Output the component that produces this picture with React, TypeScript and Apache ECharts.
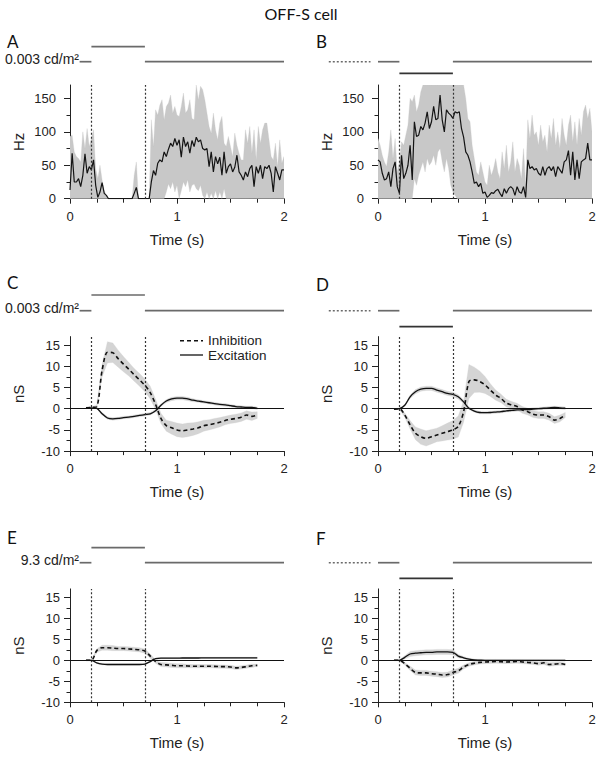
import React, { useEffect, useRef } from "react";
import * as echarts from "echarts";

// ---------------- data ----------------
// Firing rate (Hz), 20 ms bins from 0 to 2 s
const RATE_BIN_S = 0.02;
const RATE_A = [
  13, 68, 25, 25, 30, 18, 35, 67, 38, 48,
  43, 58, 20, 2, 10, 24, 8, 5, 0, 0,
  0, 0, 0, 0, 0, 0, 0, 0, 0, 0,
  8, 17, 0, 0, 0, 0, 0, 0, 25, 42,
  35, 53, 58, 55, 70, 63, 74, 83, 78, 90,
  80, 88, 62, 92, 78, 85, 68, 87, 78, 92,
  85, 88, 75, 73, 75, 48, 70, 40, 63, 52,
  62, 35, 70, 38, 48, 52, 40, 47, 65, 40,
  35, 28, 40, 33, 45, 50, 18, 48, 38, 50,
  30, 48, 45, 50, 38, 10, 48, 38, 28, 43,
  43,
];
const RATE_A_UPPER = [
  93, 95, 70, 63, 60, 55, 100, 75, 105, 78,
  90, 103, 45, 30, 50, 28, 12, 5, 0, 0,
  0, 0, 0, 0, 0, 0, 0, 0, 0, 0,
  35, 55, 0, 0, 0, 0, 0, 0, 118, 78,
  133, 125, 140, 148, 118, 138, 143, 155, 128, 138,
  125, 123, 138, 158, 128, 133, 148, 120, 118, 170,
  148, 168, 163, 148, 128, 108, 98, 128, 103, 88,
  113, 123, 83, 78, 93, 78, 63, 98, 80, 68,
  58, 58, 103, 83, 108, 68, 103, 58, 108, 83,
  103, 113, 113, 88, 63, 58, 83, 48, 88, 53,
  63,
];
const RATE_A_LOWER = [
  0, 0, 0, 0, 0, 0, 0, 0, 0, 0,
  0, 0, 0, 0, 0, 0, 0, 0, 0, 0,
  0, 0, 0, 0, 0, 0, 0, 0, 0, 0,
  0, 0, 0, 0, 0, 0, 0, 0, 0, 0,
  0, 0, 0, 0, 0, 10, 22, 15, 25, 10,
  20, 0, 12, 25, 18, 28, 10, 20, 22, 15,
  12, 20, 5, 0, 10, 0, 8, 0, 12, 0,
  10, 0, 15, 0, 0, 0, 0, 0, 0, 0,
  0, 0, 0, 0, 0, 0, 0, 0, 0, 0,
  0, 0, 0, 0, 0, 0, 0, 0, 0, 0,
  0,
];
const RATE_B = [
  58, 55, 38, 28, 30, 40, 18, 45, 55, 18,
  8, 65, 30, 38, 50, 80, 28, 115, 93, 95,
  108, 103, 113, 130, 105, 115, 138, 118, 120, 155,
  118, 100, 133, 128, 125, 120, 130, 128, 130, 105,
  92, 70, 65, 55, 40, 23, 25, 18, 23, 8,
  10, 2, 5, 9, 8, 12, 14, 8, 3, 15,
  8, 15, 18, 15, 5, 18, 10, 8, 18, 2,
  58, 45, 48, 43, 45, 38, 35, 48, 35, 45,
  48, 42, 48, 33, 48, 43, 38, 55, 58, 72,
  35, 70, 28, 58, 30, 55, 58, 60, 83, 58,
  58,
];
const RATE_B_UPPER = [
  90, 80, 65, 55, 48, 70, 103, 60, 90, 40,
  55, 85, 80, 95, 110, 150, 145, 155, 130, 140,
  160, 170, 170, 170, 170, 170, 170, 170, 170, 170,
  170, 170, 170, 170, 170, 170, 170, 170, 170, 170,
  170, 150, 120, 115, 80, 60, 40, 35, 55, 40,
  25, 20, 50, 35, 45, 60, 40, 30, 70, 45,
  80, 40, 55, 85, 40, 60, 50, 30, 75, 20,
  118, 90, 125, 95, 100, 80, 110, 85, 95, 70,
  110, 90, 120, 80, 100, 75, 120, 95, 80, 110,
  125, 85, 115, 80, 120, 95, 130, 140, 120, 135,
  100,
];
const RATE_B_LOWER = [
  0, 0, 0, 0, 0, 0, 0, 0, 0, 0,
  0, 0, 0, 0, 0, 0, 0, 30, 20, 35,
  45, 55, 40, 60, 50, 55, 65, 50, 70, 75,
  55, 40, 60, 45, 20, 10, 5, 0, 0, 0,
  0, 0, 0, 0, 0, 0, 0, 0, 0, 0,
  0, 0, 0, 0, 0, 0, 0, 0, 0, 0,
  0, 0, 0, 0, 0, 0, 0, 0, 0, 0,
  0, 0, 0, 0, 0, 0, 0, 0, 0, 0,
  0, 0, 0, 0, 0, 0, 0, 0, 0, 0,
  0, 0, 0, 0, 0, 0, 0, 0, 0, 0,
  0,
];

// Conductances (nS), sampled every 50 ms
const G_T = [
  0.15, 0.2, 0.25, 0.3, 0.35, 0.4, 0.45, 0.5, 0.55, 0.6, 0.65,
  0.7, 0.75, 0.8, 0.85, 0.9, 0.95, 1.0, 1.05, 1.1, 1.15, 1.2,
  1.25, 1.3, 1.35, 1.4, 1.45, 1.5, 1.55, 1.6, 1.65, 1.7, 1.75,
];
const C_INH = [0.2, 0.3, 0.5, 9, 13.3, 13.2, 11.8, 10.5, 9.3, 8, 6.8, 5.5, 3.8, 1.0, -2.3, -4, -4.5, -5, -5.2, -5, -4.8, -4.5, -4, -3.8, -3.5, -3.2, -2.8, -2.5, -2.3, -2, -1.5, -1.8, -1.5];
const C_INH_SD = [0.2, 0.2, 0.3, 1.5, 2.5, 2.3, 2.0, 1.8, 1.6, 1.5, 1.5, 1.5, 1.5, 1.2, 1.2, 1.3, 1.5, 1.6, 1.6, 1.6, 1.5, 1.4, 1.3, 1.2, 1.2, 1.1, 1.0, 1.0, 1.0, 1.0, 1.0, 1.0, 0.8];
const C_EXC = [0.2, 0.2, 0.1, -1.2, -2.2, -2.4, -2.3, -2.1, -2.0, -1.8, -1.6, -1.4, -1.2, -0.5, 0.8, 1.8, 2.3, 2.5, 2.5, 2.3, 2.0, 1.8, 1.6, 1.4, 1.2, 1.0, 0.9, 0.7, 0.5, 0.4, 0.3, 0.3, 0.1];
const C_EXC_SD = [0.1, 0.1, 0.1, 0.3, 0.3, 0.3, 0.3, 0.3, 0.3, 0.3, 0.3, 0.3, 0.3, 0.3, 0.3, 0.35, 0.4, 0.4, 0.4, 0.4, 0.35, 0.3, 0.3, 0.3, 0.3, 0.3, 0.3, 0.3, 0.3, 0.3, 0.3, 0.3, 0.3];
const D_INH = [-0.1, 0, -1.5, -3.8, -5.8, -6.6, -7, -6.6, -6.2, -5.8, -5.4, -5, -4.2, -0.7, 6.4, 6.8, 6.4, 5.6, 4.4, 3.2, 2.4, 1.3, 0.9, 0.5, -0.3, -0.7, -1.3, -1.5, -1.5, -1.9, -2.7, -2.3, -1.5];
const D_INH_SD = [0.1, 0.2, 0.5, 1.0, 1.5, 1.8, 1.8, 1.7, 1.6, 1.8, 2.0, 2.2, 2.5, 2.5, 4.0, 3.0, 2.5, 2.0, 1.5, 1.2, 1.0, 0.9, 0.8, 0.8, 0.8, 0.8, 0.8, 0.8, 0.8, 0.8, 0.8, 0.8, 0.6];
const D_EXC = [-0.1, 0, 0.8, 2.8, 4, 4.6, 4.8, 4.8, 4.4, 4, 3.6, 3.4, 2.8, 1.6, 0.1, -0.55, -0.9, -0.95, -0.9, -0.8, -0.7, -0.5, -0.4, -0.3, -0.25, -0.2, -0.1, 0, 0.1, 0.2, 0.3, 0.2, 0.1];
const D_EXC_SD = [0.1, 0.1, 0.2, 0.4, 0.5, 0.5, 0.5, 0.5, 0.5, 0.5, 0.5, 0.5, 0.5, 0.4, 0.3, 0.3, 0.3, 0.3, 0.3, 0.3, 0.3, 0.3, 0.3, 0.3, 0.3, 0.3, 0.3, 0.3, 0.3, 0.3, 0.3, 0.3, 0.3];
const E_INH = [0, 0, 2.3, 3, 3, 2.9, 2.8, 2.8, 2.7, 2.6, 2.5, 2.2, 1.0, -0.3, -1.0, -1.1, -1.2, -1.3, -1.3, -1.35, -1.4, -1.4, -1.4, -1.4, -1.45, -1.5, -1.5, -1.6, -1.8, -1.7, -1.5, -1.3, -1.2];
const E_INH_SD = [0.1, 0.1, 0.4, 0.6, 0.6, 0.6, 0.5, 0.5, 0.5, 0.5, 0.5, 0.5, 0.5, 0.4, 0.5, 0.5, 0.5, 0.5, 0.5, 0.4, 0.4, 0.4, 0.4, 0.4, 0.4, 0.4, 0.4, 0.4, 0.4, 0.4, 0.4, 0.4, 0.3];
const E_EXC = [0, 0, -0.6, -0.9, -1, -1, -1, -1, -1, -1, -1, -0.9, -0.3, 0.4, 0.5, 0.5, 0.5, 0.5, 0.55, 0.55, 0.55, 0.55, 0.6, 0.6, 0.6, 0.6, 0.6, 0.6, 0.6, 0.6, 0.6, 0.6, 0.6];
const E_EXC_SD = [0.15, 0.15, 0.15, 0.15, 0.15, 0.15, 0.15, 0.15, 0.15, 0.15, 0.15, 0.15, 0.15, 0.15, 0.15, 0.15, 0.15, 0.15, 0.15, 0.15, 0.15, 0.15, 0.15, 0.15, 0.15, 0.15, 0.15, 0.15, 0.15, 0.15, 0.15, 0.15, 0.15];
const F_INH = [0, 0, -0.8, -1.9, -2.9, -3.0, -3.0, -3.2, -3.3, -3.5, -3.4, -2.9, -2.5, -1.6, -1.0, -0.7, -0.5, -0.4, -0.35, -0.3, -0.35, -0.4, -0.35, -0.3, -0.4, -0.5, -0.6, -0.8, -0.6, -1.0, -0.9, -0.8, -1.0];
const F_INH_SD = [0.1, 0.1, 0.3, 0.5, 0.6, 0.6, 0.6, 0.6, 0.6, 0.6, 0.6, 0.6, 0.6, 0.5, 0.4, 0.4, 0.4, 0.4, 0.4, 0.4, 0.4, 0.4, 0.4, 0.4, 0.4, 0.4, 0.4, 0.4, 0.4, 0.4, 0.4, 0.4, 0.3];
const F_EXC = [0, 0, 0.7, 1.5, 1.7, 1.8, 1.9, 1.9, 2.0, 2.0, 2.0, 1.9, 1.0, 0.6, 0.3, 0.1, 0.05, 0, 0, 0, 0, 0, 0, 0, 0, 0, 0, 0, 0, 0, 0, 0, 0];
const F_EXC_SD = [0.1, 0.1, 0.4, 0.6, 0.6, 0.6, 0.6, 0.6, 0.6, 0.6, 0.6, 0.6, 0.4, 0.3, 0.2, 0.2, 0.2, 0.2, 0.2, 0.2, 0.2, 0.2, 0.2, 0.2, 0.2, 0.2, 0.2, 0.2, 0.2, 0.2, 0.2, 0.2, 0.2];

// Stimulus timing (s) and luminance steps
const STIM_ON = 0.2;
const STIM_OFF = 0.7;
const STIM_LEFT = [[0.09, 0.2, 0], [0.2, 0.7, 1], [0.7, 2.0, 0]];
const STIM_RIGHT = [[-0.46, -0.07, 0], [0, 0.2, 0], [0.2, 0.7, -1], [0.7, 2.0, 0]];
const LUMINANCE = ["0.003 cd/m²", "", "0.003 cd/m²", "", "9.3 cd/m²", ""];

// Tick labels
const TIME_RANGE = [0, 2];
const HZ_TICKS = [0, 50, 100, 150];
const HZ_MINOR = [25, 75, 125];
const NS_TICKS = [-10, -5, 0, 5, 10, 15];
const NS_MINOR = [-7.5, -2.5, 2.5, 7.5, 12.5];
const LETTERS = ["A", "B", "C", "D", "E", "F"];
const LEGEND_NAMES = ["Inhibition", "Excitation"];
const TITLE = "OFF-S cell";

// ---------------- layout ----------------
const FONT = "'Liberation Sans', Arial, sans-serif";
const FONT_LABEL = "Lato, 'Liberation Sans', sans-serif";
const W = 214;
const PX_PER_S = W / 2;
const LAYOUT = [
  { left: 70, top: 85, h: 113.7, stimTop: 46.7, stimH: 15, side: "L", letterX: 7, letterY: 41.5, labelMargin: 14 },
  { left: 378, top: 85, h: 113.7, stimTop: 61.7, stimH: 11.6, side: "R", letterX: 316, letterY: 41.5, labelMargin: 14 },
  { left: 70, top: 336.6, h: 114.5, stimTop: 295, stimH: 15.7, side: "L", letterX: 7, letterY: 282.5, labelMargin: 10 },
  { left: 378, top: 336.6, h: 114.5, stimTop: 310.7, stimH: 16, side: "R", letterX: 316, letterY: 284, labelMargin: 10 },
  { left: 70, top: 588.9, h: 113.4, stimTop: 547.7, stimH: 15, side: "L", letterX: 7, letterY: 537, labelMargin: 10 },
  { left: 378, top: 588.9, h: 113.4, stimTop: 562.7, stimH: 15.6, side: "R", letterX: 316, letterY: 538, labelMargin: 10 },
];

const AXIS_COLOR = "#222";
const BAND_RATE = "#c8c8c8";
const BAND_G = "#d4d4d4";

function pairs(t: number[], v: number[]) {
  return t.map((x, i) => [x, v[i]]);
}

// shaded band between lo and hi, drawn as one polygon through the axis scales
function band(i: number, t: number[], lo: number[], hi: number[], color: string) {
  return {
    type: "custom",
    xAxisIndex: i,
    yAxisIndex: i,
    silent: true,
    z: 1,
    clip: true,
    data: t.map((x, k) => [x, lo[k], hi[k]]),
    encode: { x: 0, y: [1, 2] },
    renderItem: (params: any, api: any) => {
      if (params.dataIndex !== 0) return null;
      const top = t.map((x, k) => api.coord([x, hi[k]]));
      const bottom = t.map((x, k) => api.coord([x, lo[k]])).reverse();
      return {
        type: "polygon",
        shape: { points: top.concat(bottom) },
        style: { fill: color, stroke: color, lineWidth: 0.3 },
      };
    },
  };
}

function markLines(withZero: boolean) {
  const dotted = { type: [2, 2], color: "#333", width: 1.2 };
  const data: any[] = [
    { xAxis: STIM_ON, lineStyle: dotted },
    { xAxis: STIM_OFF, lineStyle: dotted },
  ];
  if (withZero) data.push({ yAxis: 0, lineStyle: { type: "solid", color: "#111", width: 1 } });
  return { silent: true, symbol: ["none", "none"], label: { show: false }, emphasis: { disabled: true }, data };
}

function buildOption() {
  const grids: any[] = [];
  const xAxes: any[] = [];
  const yAxes: any[] = [];
  const series: any[] = [];
  const graphics: any[] = [];

  LAYOUT.forEach((p) => {
    grids.push({ left: p.left, top: p.top, width: W, height: p.h, outerBoundsMode: "none", containLabel: false });
  });
  LAYOUT.forEach((p) => {
    grids.push({
      left: p.left - 0.5 * PX_PER_S,
      top: p.stimTop,
      width: 2.5 * PX_PER_S,
      height: p.stimH,
      outerBoundsMode: "none",
      containLabel: false,
    });
  });

  LAYOUT.forEach((p, i) => {
    xAxes.push({
      gridIndex: i,
      type: "value",
      min: TIME_RANGE[0],
      max: TIME_RANGE[1],
      interval: 1,
      axisLine: { show: true, onZero: false, lineStyle: { color: AXIS_COLOR, width: 1 } },
      axisTick: { show: true, length: 5, lineStyle: { color: AXIS_COLOR } },
      minorTick: { show: true, splitNumber: 4, length: 4, lineStyle: { color: AXIS_COLOR } },
      axisLabel: { fontSize: 13, color: AXIS_COLOR, margin: 11, fontFamily: FONT },
      splitLine: { show: false },
      minorSplitLine: { show: false },
      name: "Time (s)",
      nameLocation: "middle",
      nameGap: 33,
      nameTextStyle: { fontSize: 15, color: AXIS_COLOR, fontFamily: FONT },
    });
  });
  LAYOUT.forEach((p, i) => {
    xAxes.push({ gridIndex: 6 + i, type: "value", min: -0.5, max: 2, show: false });
  });

  LAYOUT.forEach((p, i) => {
    const isRate = i < 2;
    yAxes.push({
      gridIndex: i,
      type: "value",
      position: "left",
      min: isRate ? 0 : -10,
      max: isRate ? 170 : 17,
      interval: isRate ? 50 : 5,
      axisLine: { show: true, onZero: false, lineStyle: { color: AXIS_COLOR, width: 1 } },
      axisTick: { show: true, length: 6, customValues: isRate ? HZ_TICKS : NS_TICKS, lineStyle: { color: AXIS_COLOR } },
      axisLabel: { customValues: isRate ? HZ_TICKS : NS_TICKS, fontSize: 13, color: AXIS_COLOR, margin: p.labelMargin, fontFamily: FONT },
      splitLine: { show: false },
      name: isRate ? "Hz" : "nS",
      nameLocation: "middle",
      nameGap: 44,
      nameTextStyle: { fontSize: 15, color: AXIS_COLOR, fontFamily: FONT },
    });
  });
  LAYOUT.forEach((p, i) => {
    const isRate = i < 2;
    yAxes.push({
      gridIndex: i,
      type: "value",
      position: "left",
      offset: 0,
      min: isRate ? 0 : -10,
      max: isRate ? 170 : 17,
      interval: isRate ? 25 : 2.5,
      axisLine: { show: false },
      axisTick: { show: true, length: 3.5, customValues: isRate ? HZ_MINOR : NS_MINOR, lineStyle: { color: AXIS_COLOR } },
      axisLabel: { show: false },
      splitLine: { show: false },
    });
  });
  LAYOUT.forEach((p, i) => {
    yAxes.push({ gridIndex: 6 + i, type: "value", min: p.side === "L" ? 0 : -1, max: p.side === "L" ? 1 : 0, show: false });
  });

  // firing-rate panels
  const rateT = RATE_A.map((_, k) => +(k * RATE_BIN_S).toFixed(2));
  const rates = [
    { line: RATE_A, lo: RATE_A_LOWER, hi: RATE_A_UPPER },
    { line: RATE_B, lo: RATE_B_LOWER, hi: RATE_B_UPPER },
  ];
  rates.forEach((r, i) => {
    series.push(band(i, rateT, r.lo, r.hi, BAND_RATE));
    series.push({
      type: "line",
      name: "Firing rate",
      xAxisIndex: i,
      yAxisIndex: i,
      data: pairs(rateT, r.line),
      symbol: "none",
      z: 3,
      emphasis: { disabled: true },
      lineStyle: { color: "#141414", width: 1.2 },
      markLine: markLines(false),
    });
  });

  // conductance panels
  const gs = [
    { inh: C_INH, inhSd: C_INH_SD, exc: C_EXC, excSd: C_EXC_SD },
    { inh: D_INH, inhSd: D_INH_SD, exc: D_EXC, excSd: D_EXC_SD },
    { inh: E_INH, inhSd: E_INH_SD, exc: E_EXC, excSd: E_EXC_SD },
    { inh: F_INH, inhSd: F_INH_SD, exc: F_EXC, excSd: F_EXC_SD },
  ];
  gs.forEach((g, k) => {
    const i = k + 2;
    series.push(band(i, G_T, g.inh.map((v, j) => v - g.inhSd[j]), g.inh.map((v, j) => v + g.inhSd[j]), BAND_G));
    series.push(band(i, G_T, g.exc.map((v, j) => v - g.excSd[j]), g.exc.map((v, j) => v + g.excSd[j]), BAND_G));
    series.push({
      type: "line",
      name: LEGEND_NAMES[0],
      xAxisIndex: i,
      yAxisIndex: i,
      data: pairs(G_T, g.inh),
      symbol: "none",
      smooth: 0.3,
      z: 3,
      emphasis: { disabled: true },
      lineStyle: { color: "#111", width: 1.6, type: [4, 3] },
    });
    series.push({
      type: "line",
      name: LEGEND_NAMES[1],
      xAxisIndex: i,
      yAxisIndex: i,
      data: pairs(G_T, g.exc),
      symbol: "none",
      smooth: 0.3,
      z: 3,
      emphasis: { disabled: true },
      lineStyle: { color: "#111", width: 1.3 },
      markLine: markLines(true),
    });
  });

  // stimulus traces
  LAYOUT.forEach((p, i) => {
    const segs = p.side === "L" ? STIM_LEFT : STIM_RIGHT;
    segs.forEach((s, k) => {
      const dottedLead = p.side === "R" && k === 0;
      series.push({
        type: "line",
        name: "stimulus",
        xAxisIndex: 6 + i,
        yAxisIndex: 12 + i,
        data: [[s[0], s[2]], [s[1], s[2]]],
        symbol: "none",
        clip: false,
        silent: true,
        emphasis: { disabled: true },
        lineStyle: {
          color: s[2] === -1 ? "#333" : "#6a6a6a",
          width: dottedLead ? 1.4 : 1.7,
          type: dottedLead ? [2, 2] : "solid",
        },
      });
    });
    if (LUMINANCE[i]) {
      graphics.push({
        type: "text",
        x: p.left + 9,
        y: p.stimTop + (p.side === "L" ? p.stimH : 0) - 3,
        style: {
          text: LUMINANCE[i],
          fontSize: 14,
          fontFamily: FONT,
          fill: "#222",
          textAlign: "right",
          textVerticalAlign: "middle",
          align: "right",
          verticalAlign: "middle",
        },
      });
    }
    graphics.push({
      type: "text",
      x: p.letterX,
      y: p.letterY,
      style: {
        text: LETTERS[i],
        fontSize: 17,
        fontFamily: FONT_LABEL,
        fill: "#111",
        textAlign: "left",
        textVerticalAlign: "middle",
        align: "left",
        verticalAlign: "middle",
      },
    });
  });

  // legend (panel C)
  const legendRows = [
    { y: 340.7, dash: [4, 3], w: 1.6 },
    { y: 355, dash: null, w: 1.3 },
  ];
  legendRows.forEach((r, k) => {
    graphics.push({
      type: "line",
      shape: { x1: 180, y1: r.y, x2: 203, y2: r.y },
      style: { stroke: "#111", lineWidth: r.w, lineDash: r.dash || undefined },
    });
    graphics.push({
      type: "text",
      x: 208,
      y: r.y,
      style: {
        text: LEGEND_NAMES[k],
        fontSize: 13.5,
        lineHeight: 13,
        fontFamily: FONT,
        fill: "#222",
        textAlign: "left",
        textVerticalAlign: "middle",
        align: "left",
        verticalAlign: "middle",
      },
    });
  });

  graphics.push({
    type: "text",
    x: 301,
    y: 13,
    style: {
      text: TITLE,
      fontSize: 16,
      fontFamily: FONT_LABEL,
      fill: "#111",
      textAlign: "center",
      textVerticalAlign: "middle",
      align: "center",
      verticalAlign: "middle",
    },
  });

  return {
    animation: false,
    backgroundColor: "#fff",
    textStyle: { fontFamily: FONT },
    grid: grids,
    xAxis: xAxes,
    yAxis: yAxes,
    series,
    graphic: { elements: graphics },
  };
}

export default function App() {
  const ref = useRef<HTMLDivElement>(null);
  useEffect(() => {
    if (!ref.current) return;
    const chart = echarts.init(ref.current, null, { renderer: "svg" });
    chart.setOption(buildOption() as any);
    return () => chart.dispose();
  }, []);
  return (
    <div
      ref={ref}
      style={{ position: "absolute", left: 0, top: 0, width: 602, height: 760, background: "#fff" }}
    />
  );
}
